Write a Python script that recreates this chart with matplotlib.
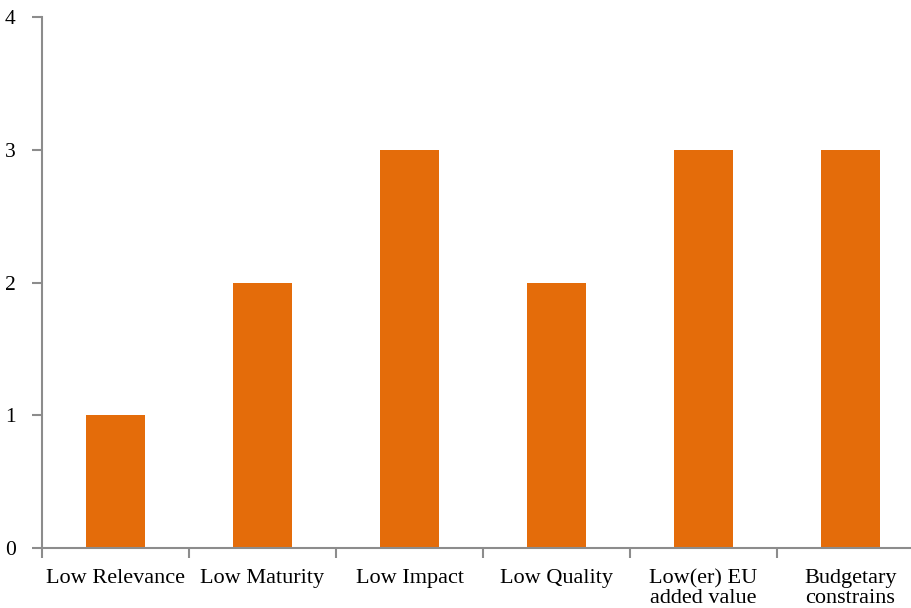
import numpy as np
import matplotlib
matplotlib.use('Agg')
import matplotlib.pyplot as plt

categories = ['Low Relevance', 'Low Maturity', 'Low Impact', 'Low Quality',
              'Low(er) EU\nadded value', 'Budgetary\nconstrains']
values = [1, 2, 3, 2, 3, 3]
yticks = [0, 1, 2, 3, 4]

plt.rcParams['font.family'] = ['Liberation Serif', 'DejaVu Serif']

fig = plt.figure(figsize=(9.11, 6.08), dpi=100)
ax = fig.add_axes([42 / 911, 60 / 608, 882 / 911, 531 / 608])

x = np.arange(len(categories))
ax.bar(x, values, width=0.4, color='#E46C0A', zorder=2)

ax.set_xlim(-0.5, len(categories) - 0.5)
ax.set_ylim(0, 4)

axis_grey = '#8c8c8c'
for side in ['top', 'right']:
    ax.spines[side].set_visible(False)
for side in ['left', 'bottom']:
    ax.spines[side].set_color(axis_grey)
    ax.spines[side].set_linewidth(1.5)
    ax.spines[side].set_clip_on(False)

ax.set_yticks(yticks)
ax.set_yticklabels([str(v) for v in yticks], fontsize=15.5)
ax.tick_params(axis='y', length=7, width=1.5, color=axis_grey, pad=12)

# category labels centred under bars, tick marks on the boundaries
ax.set_xticks(x)
ax.set_xticklabels(categories, fontsize=16, linespacing=1.1)
ax.tick_params(axis='x', which='major', length=0, pad=15)
ax.set_xticks(np.arange(-0.5, len(categories) + 0.5, 1), minor=True)
ax.tick_params(axis='x', which='minor', length=7, width=1.5, color=axis_grey)

fig.savefig('out.png', dpi=100)
